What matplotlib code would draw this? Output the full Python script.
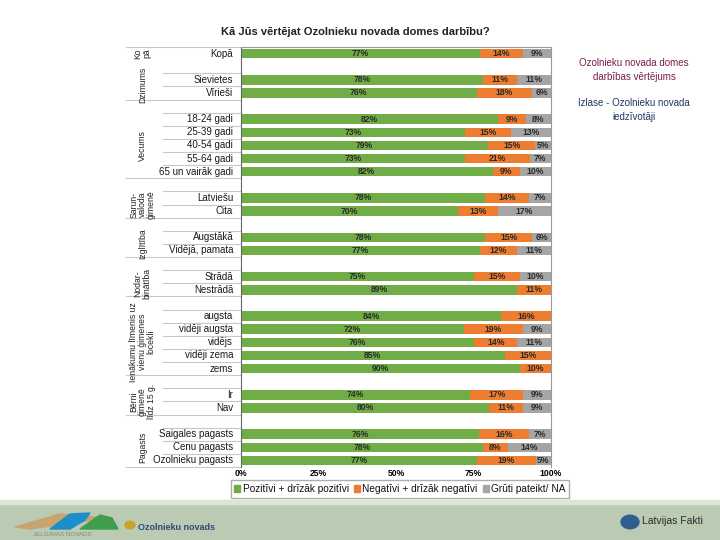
import numpy as np
import matplotlib.pyplot as plt
from matplotlib.patches import Rectangle, Polygon, Circle

plt.rcParams['font.family'] = ['Liberation Sans', 'DejaVu Sans']

# rindas (tukšās rindas atdala grupas)
rows = ['Kopā', '', 'Sievietes', 'Vīrieši',
        '', '18-24 gadi', '25-39 gadi', '40-54 gadi', '55-64 gadi', '65 un vairāk gadi',
        '', 'Latviešu', 'Cita',
        '', 'Augstākā', 'Vidējā, pamata',
        '', 'Strādā', 'Nestrādā',
        '', 'augsta', 'vidēji augsta', 'vidējs', 'vidēji zema', 'zems',
        '', 'Ir', 'Nav',
        '', 'Saigales pagasts', 'Cenu pagasts', 'Ozolnieku pagasts']
pos = [77, None, 78, 76, None, 82, 73, 79, 73, 82, None, 78, 70, None, 78, 77,
       None, 75, 89, None, 84, 72, 76, 85, 90, None, 74, 80, None, 76, 78, 77]
neg = [14, None, 11, 18, None, 9, 15, 15, 21, 9, None, 14, 13, None, 15, 12,
       None, 15, 11, None, 16, 19, 14, 15, 10, None, 17, 11, None, 16, 8, 19]
na = [9, None, 11, 6, None, 8, 13, 5, 7, 10, None, 7, 17, None, 6, 11,
      None, 10, 0, None, 0, 9, 11, 0, 0, None, 9, 9, None, 7, 14, 5]

# grupas: nosaukums, pirmā rinda, pēdējā rinda
groups = [('Dzimums', 0, 3), ('Vecums', 4, 9), ('Sarun-\nvaloda\nģimenē', 10, 12),
          ('Izglītība', 13, 15), ('Nodar-\nbinātība', 16, 18),
          ('Ienākumu līmenis uz\nvienu ģimenes\nlocekli', 19, 24),
          ('Bērni\nģimenē\nlīdz 15 g.', 25, 27), ('Pagasts', 28, 31)]
series = ['Pozitīvi + drīzāk pozitīvi', 'Negatīvi + drīzāk negatīvi', 'Grūti pateikt/ NA']
colors = ['#70AD47', '#ED7D31', '#A5A5A5']
xticks = [0, 25, 50, 75, 100]

fig = plt.figure(figsize=(7.2, 5.4), dpi=100)
ax = fig.add_axes([241/720, 1 - 467/540, 310/720, 420/540])

y = np.arange(len(rows))
for i in y:
    if pos[i] is None:
        continue
    vals = [pos[i], neg[i], na[i]]
    tot = sum(vals)
    left = 0
    for v, c in zip(vals, colors):
        w = v / tot * 100
        if v > 0:
            ax.barh(i, w, left=left, height=0.72, color=c, edgecolor='none')
            ax.text(left + w / 2, i, f'{v}%', ha='center', va='center',
                    fontsize=6.2, fontweight='bold', color='#2A2A2A')
        left += w

ax.set_ylim(len(rows) - 0.5, -0.5)
ax.set_xlim(0, 100)
ax.set_yticks([])
ax.set_xticks(xticks)
ax.set_xticklabels([f'{t}%' for t in xticks], fontsize=6.2, fontweight='bold')
ax.tick_params(axis='x', length=0, pad=1.5)
for s in ['top', 'right']:
    ax.spines[s].set_color('#999999')
ax.spines['left'].set_color('#666666')
ax.spines['bottom'].set_visible(False)

tr = ax.get_yaxis_transform()
for i, r in enumerate(rows):
    if r:
        ax.text(-0.025, i, r, transform=tr, ha='right', va='center', fontsize=7,
                color='#1A1A1A')
        if i > 0 and not any(g[1] == i for g in groups) and r != 'Kopā':
            ax.plot([-0.252, 0], [i - 0.5, i - 0.5], transform=tr, color='#C8C8C8',
                    lw=0.8, clip_on=False)

for name, a, b in groups:
    ax.plot([-0.37, 0], [b + 0.5, b + 0.5], transform=tr, color='#C8C8C8', lw=0.8, clip_on=False)
    yc = (a + b) / 2 + 0.5
    if name == 'Dzimums':
        yc = 2.4
    ax.text(-0.318, yc, name, transform=tr, rotation=90, ha='center', va='center',
            fontsize=6.2, color='#222222', linespacing=0.95, multialignment='center')
ax.plot([-0.37, 0], [-0.5, -0.5], transform=tr, color='#C8C8C8', lw=0.8, clip_on=False)
ax.text(-0.318, 0, 'Ko\npā', transform=tr, rotation=90, ha='center', va='center',
        fontsize=6.2, color='#222222', linespacing=0.95)

fig.text(355/720, 1 - 32/540, 'Kā Jūs vērtējat Ozolnieku novada domes darbību?',
         ha='center', va='center', fontsize=8, fontweight='bold', color='#222222')

handles = [Rectangle((0, 0), 1, 1, color=c) for c in colors]
leg = fig.legend(handles, series, loc='center', bbox_to_anchor=(400/720, 1 - 489/540), ncol=3,
                 handlelength=0.6, handleheight=0.6, handletextpad=0.25,
                 columnspacing=0.5, fancybox=False, edgecolor='#999999', borderpad=0.35,
                 prop={'size': 7.3})
for t in leg.get_texts():
    t.set_color('#111111')

fig.text(634/720, 1 - 70/540, 'Ozolnieku novada domes\ndarbības vērtējums', ha='center',
         va='center', fontsize=7, color='#7A1E4E', linespacing=1.4)
fig.text(634/720, 1 - 110/540, 'Izlase - Ozolnieku novada\niedzīvotāji', ha='center',
         va='center', fontsize=7, color='#1F3864', linespacing=1.4)

# kājene
fig.patches.append(Rectangle((0, 0), 1, 36/540, transform=fig.transFigure,
                             color='#BACAB3', zorder=0))
fig.patches.append(Rectangle((0, 36/540), 1, 4/540, transform=fig.transFigure,
                             color='#DDE5D8', zorder=0))
W, H = 720, 540
shapes = [([(15, 527), (60, 514), (105, 518), (80, 522), (30, 529)], '#C8A46E'),
          ([(50, 529), (70, 514), (90, 513), (85, 520), (70, 529)], '#1B8FC9'),
          ([(80, 529), (100, 515), (112, 518), (118, 529)], '#3E9E4E')]
for pts, c in shapes:
    fig.patches.append(Polygon([(px / W, 1 - py / H) for px, py in pts], closed=True,
                               transform=fig.transFigure, color=c, zorder=1))
fig.text(62/720, 1 - 534/540, 'JELGAVAS NOVADS', ha='center', va='center', fontsize=4.5,
         color='#7F8C7A')
fig.patches.append(Circle((130/W, 1 - 525/H), 5/W, transform=fig.transFigure,
                          color='#C9A227', zorder=1))
fig.text(138/720, 1 - 527/540, 'Ozolnieku novads', ha='left', va='center', fontsize=6.5,
         fontweight='bold', color='#2E4A7A')
fig.patches.append(Circle((630/W, 1 - 522/H), 9/W, transform=fig.transFigure,
                          color='#2F5F8F', zorder=1))
fig.text(642/720, 1 - 521/540, 'Latvijas Fakti', ha='left', va='center', fontsize=7.5,
         color='#2B2B2B')

fig.savefig('out.png', dpi=100)
